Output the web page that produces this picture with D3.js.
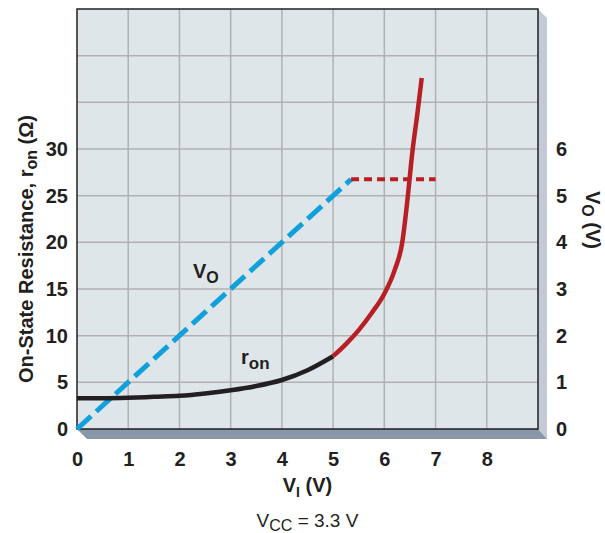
<!DOCTYPE html>
<html>
<head>
<meta charset="utf-8">
<script src="https://cdn.jsdelivr.net/npm/d3@7"></script>
<style>
  body { margin: 0; background: #fff; }
  text { font-family: "Liberation Sans", Arial, sans-serif; fill: #231f20; }
  .tick-label { font-size: 20px; font-weight: bold; }
</style>
</head>
<body>
<div id="chart"></div>
<script>
// tick labels
const xTicks = [0, 1, 2, 3, 4, 5, 6, 7, 8];
const leftTicks = [0, 5, 10, 15, 20, 25, 30];
const rightTicks = [0, 1, 2, 3, 4, 5, 6];

// r_on curve, black part (V_I, ohms)
const ronLowV = [0, 0.5, 1, 1.5, 2, 2.5, 3, 3.5, 4, 4.5, 5];
const ronLowR = [3.3, 3.3, 3.35, 3.45, 3.55, 3.8, 4.15, 4.6, 5.25, 6.3, 7.8];
// r_on curve, red part
const ronHighV = [5, 5.25, 5.5, 5.75, 6, 6.2, 6.35, 6.45, 6.55, 6.65, 6.73];
const ronHighR = [7.8, 9.1, 10.6, 12.4, 14.5, 17, 20, 24.5, 29.8, 34, 37.6];

// V_O curve (volts): rising part and flat part
const voRiseV = [0, 5.35];
const voRiseO = [0, 5.35];
const voFlatV = [5.35, 7];
const voFlatO = [5.35, 5.35];

const W = 605, H = 533;
const margin = {top: 9, right: 67, bottom: 104, left: 77};
const w = W - margin.left - margin.right,
      h = H - margin.top - margin.bottom;

const svg = d3.select("#chart").append("svg")
  .attr("width", W).attr("height", H);

const g = svg.append("g")
  .attr("transform", "translate(" + margin.left + "," + margin.top + ")");

const x = d3.scaleLinear().domain([0, 9]).range([0, w]);
const yL = d3.scaleLinear().domain([0, 45]).range([h, 0]);
const yR = d3.scaleLinear().domain([0, 9]).range([h, 0]);

// 3D shadow
const d = 9;
g.append("polygon")
  .attr("points", [[w, 0], [w + d, d], [w + d, h + d + 1], [w, h]].join(" "))
  .attr("fill", "#c3cad5");
g.append("polygon")
  .attr("points", [[0, h], [d + 1, h + d + 1], [w + d, h + d + 1], [w, h]].join(" "))
  .attr("fill", "#8797a7");

// plot background
g.append("rect")
  .attr("width", w).attr("height", h)
  .attr("fill", "#dfe6ea");

// grid
g.selectAll(".vgrid")
  .data(d3.range(1, 9))
  .enter().append("line")
  .attr("x1", v => x(v)).attr("x2", v => x(v))
  .attr("y1", 0).attr("y2", h)
  .attr("stroke", "#b1b1b1").attr("stroke-width", 1.5);
g.selectAll(".hgrid")
  .data(d3.range(1, 9))
  .enter().append("line")
  .attr("y1", v => yR(v)).attr("y2", v => yR(v))
  .attr("x1", 0).attr("x2", w)
  .attr("stroke", "#b1b1b1").attr("stroke-width", 1.5);

g.append("rect")
  .attr("width", w).attr("height", h)
  .attr("fill", "none")
  .attr("stroke", "#231f20").attr("stroke-width", 1.5);

// axes (labels only)
const xAxis = d3.axisBottom(x).tickValues(xTicks).tickSize(0).tickPadding(30);
const gX = g.append("g").attr("transform", "translate(0," + h + ")").call(xAxis);
const yAxisL = d3.axisLeft(yL).tickValues(leftTicks).tickSize(0).tickPadding(9);
const gYL = g.append("g").call(yAxisL);
const yAxisR = d3.axisRight(yR).tickValues(rightTicks).tickSize(0).tickPadding(18);
const gYR = g.append("g").attr("transform", "translate(" + w + ",0)").call(yAxisR);

[gX, gYL, gYR].forEach(function(a) {
  a.select(".domain").remove();
  a.selectAll(".tick text")
    .attr("class", "tick-label")
    .attr("fill", "#231f20")
    .style("font-family", "'Liberation Sans', Arial, sans-serif");
});
gX.selectAll(".tick text").attr("dy", "0.35em");

// curves
const lineR = d3.line()
  .x(p => x(p[0])).y(p => yL(p[1]))
  .curve(d3.curveMonotoneX);
const lineV = d3.line()
  .x(p => x(p[0])).y(p => yR(p[1]));

const plot = g.append("g");

plot.append("path")
  .datum(voRiseV.map((v, i) => [v, voRiseO[i]]))
  .attr("d", lineV)
  .attr("fill", "none")
  .attr("stroke", "#10a0dc").attr("stroke-width", 5)
  .attr("stroke-dasharray", "19,7");

plot.append("path")
  .datum(voFlatV.map((v, i) => [v, voFlatO[i]]))
  .attr("d", lineV)
  .attr("fill", "none")
  .attr("stroke", "#b71f24").attr("stroke-width", 4)
  .attr("stroke-dasharray", "8,5");

plot.append("path")
  .datum(ronLowV.map((v, i) => [v, ronLowR[i]]))
  .attr("d", lineR)
  .attr("fill", "none")
  .attr("stroke", "#231f20").attr("stroke-width", 4.5);

plot.append("path")
  .datum(ronHighV.map((v, i) => [v, ronHighR[i]]))
  .attr("d", lineR)
  .attr("fill", "none")
  .attr("stroke", "#b71f24").attr("stroke-width", 4.5);

// in-plot labels
const lblVo = g.append("text")
  .attr("x", 116).attr("y", 269)
  .style("font-size", "20px").style("font-weight", "bold");
lblVo.append("tspan").text("V");
lblVo.append("tspan").attr("dy", 5).style("font-size", "16px").text("O");

const lblRon = g.append("text")
  .attr("x", 164).attr("y", 355)
  .style("font-size", "20px").style("font-weight", "bold");
lblRon.append("tspan").text("r");
lblRon.append("tspan").attr("dy", 5).style("font-size", "17px").text("on");

// axis titles
const tL = svg.append("text")
  .attr("transform", "translate(33," + (margin.top + h / 2 + 30) + ") rotate(-90)")
  .attr("text-anchor", "middle")
  .style("font-size", "20px").style("font-weight", "bold");
tL.append("tspan").text("On-State Resistance, r");
tL.append("tspan").attr("dy", 4).style("font-size", "16px").text("on");
tL.append("tspan").attr("dy", -4).text(" (\u03A9)");

const tR = svg.append("text")
  .attr("transform", "translate(586,220) rotate(90)")
  .attr("text-anchor", "middle")
  .style("font-size", "20px").style("font-weight", "bold");
tR.append("tspan").text("V");
tR.append("tspan").attr("dy", 4).style("font-size", "16px").text("O");
tR.append("tspan").attr("dy", -4).text(" (V)");

const tX = svg.append("text")
  .attr("x", margin.left + x(4.5)).attr("y", 492)
  .attr("text-anchor", "middle")
  .style("font-size", "20px").style("font-weight", "bold");
tX.append("tspan").text("V");
tX.append("tspan").attr("dy", 5).style("font-size", "14px").text("I");
tX.append("tspan").attr("dy", -5).text(" (V)");

const tSub = svg.append("text")
  .attr("x", margin.left + x(4.5)).attr("y", 527)
  .attr("text-anchor", "middle")
  .style("font-size", "19px");
tSub.append("tspan").text("V");
tSub.append("tspan").attr("dy", 4).style("font-size", "16px").text("CC");
tSub.append("tspan").attr("dy", -4).text(" = 3.3 V");
</script>
</body>
</html>
